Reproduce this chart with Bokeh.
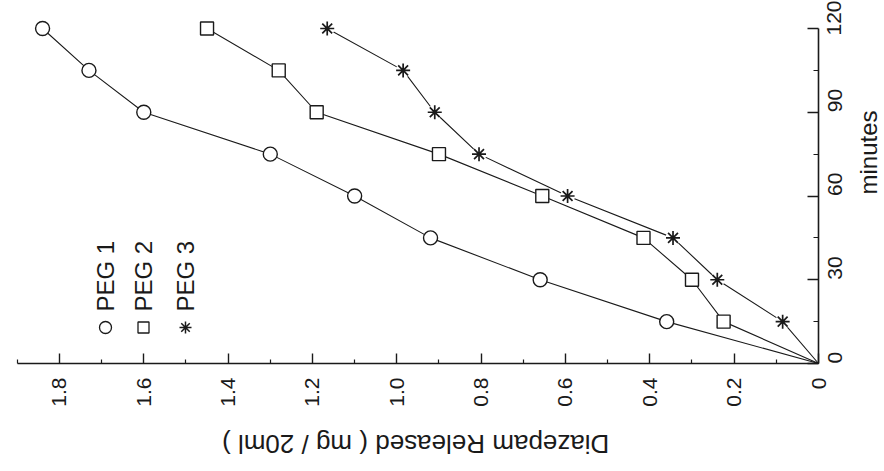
import math
from bokeh.plotting import figure
from bokeh.models import Range1d, FixedTicker, CustomJSTickFormatter, Label
from bokeh.embed import file_html
from bokeh.resources import INLINE
from bokeh.core.properties import value

# ---- data ----
minutes = [0, 15, 30, 45, 60, 75, 90, 105, 120]
peg1 = [0, 0.36, 0.66, 0.92, 1.10, 1.30, 1.60, 1.73, 1.84]
peg2 = [0, 0.225, 0.30, 0.415, 0.655, 0.90, 1.19, 1.28, 1.45]
peg3 = [0, 0.085, 0.24, 0.345, 0.595, 0.805, 0.91, 0.985, 1.165]
series_names = ["PEG 1", "PEG 2", "PEG 3"]

release_ticks = [0, 0.2, 0.4, 0.6, 0.8, 1.0, 1.2, 1.4, 1.6, 1.8]
release_minor = [0.1, 0.3, 0.5, 0.7, 0.9, 1.1, 1.3, 1.5, 1.7, 1.9]
minute_ticks = [0, 30, 60, 90, 120]
minute_minor = [15, 45, 75, 105]

x_label = "Diazepam   Released ( mg / 20ml )"
y_label = "minutes"

FONT = "Liberation Sans"
INK = "#1a1a1a"

# ---- layout: the whole canvas is the plotting frame; axes sit at fixed places ----
W, H = 884, 471
ORIG_PX, ORIG_PY = 818, 363          # pixel position of (0, 0)
PX_PER_UNIT = 421.7                  # px per mg/20ml
PX_PER_MIN = 335 / 120.0             # px per minute


def data_x(px):
    return (ORIG_PX - px) / PX_PER_UNIT


def data_y(py):
    return (ORIG_PY - py) / PX_PER_MIN


p = figure(width=W, height=H, output_backend="svg", toolbar_location=None,
           x_range=Range1d(data_x(0), data_x(W)),
           y_range=Range1d(data_y(H), data_y(0)),
           y_axis_location="right", min_border=0)
p.outline_line_color = None
p.grid.visible = False
p.background_fill_color = "white"
p.border_fill_color = "white"

# bottom axis (release), anchored at minutes = 0
xa = p.xaxis[0]
xa.fixed_location = 0
xa.bounds = (0, 1.9)
xa.ticker = FixedTicker(ticks=release_ticks, minor_ticks=release_minor)
xa.formatter = CustomJSTickFormatter(code="return tick == 0 ? '0' : tick.toFixed(1);")
xa.major_label_orientation = math.pi / 2
xa.major_label_standoff = 14
xa.major_tick_in = 10
xa.major_tick_out = 0
xa.minor_tick_in = 4
xa.minor_tick_out = 0

# right axis (minutes), anchored at release = 0
ya = p.yaxis[0]
ya.fixed_location = 0
ya.bounds = (0, 120)
ya.ticker = FixedTicker(ticks=minute_ticks, minor_ticks=minute_minor)
ya.major_label_orientation = math.pi / 2
ya.major_label_standoff = 16
ya.major_tick_in = 11
ya.major_tick_out = 0
ya.minor_tick_in = 5
ya.minor_tick_out = 0

for ax in (xa, ya):
    ax.axis_line_color = INK
    ax.axis_line_width = 1.6
    ax.major_tick_line_color = INK
    ax.minor_tick_line_color = INK
    ax.major_tick_line_width = 1.4
    ax.minor_tick_line_width = 1.2
    ax.major_label_text_font = FONT
    ax.major_label_text_font_size = "21px"
    ax.major_label_text_color = INK

# series
for vals in (peg1, peg2, peg3):
    p.line(vals, minutes, line_color=INK, line_width=1.1)

p.scatter(peg1[1:], minutes[1:], marker="circle", size=14, line_color=INK,
          line_width=1.4, fill_color="white")
p.scatter(peg2[1:], minutes[1:], marker="square", size=13, line_color=INK,
          line_width=1.4, fill_color="white")
p.scatter(peg3[1:], minutes[1:], marker="circle", size=15, line_color=None,
          fill_color="white")
p.scatter(peg3[1:], minutes[1:], marker="asterisk", size=14, line_color=INK,
          line_width=1.7)

# legend (rotated, like the reference)
leg_x = [data_x(105), data_x(143), data_x(185)]
leg_y = data_y(327)
p.scatter([leg_x[0]], [leg_y], marker="circle", size=12, line_color=INK,
          line_width=1.3, fill_color="white")
p.scatter([leg_x[1]], [leg_y], marker="square", size=11, line_color=INK,
          line_width=1.3, fill_color="white")
p.scatter([leg_x[2]], [leg_y], marker="asterisk", size=12, line_color=INK,
          line_width=1.5)
p.text(x=leg_x, y=[data_y(311)] * 3, text=series_names, angle=math.pi / 2,
       text_align="left", text_baseline="middle",
       text_font=value(FONT), text_font_size="24px", text_color=INK)

# axis titles (rotated like the reference)
p.add_layout(Label(x=data_x(408), y=data_y(443), text=x_label, angle=math.pi,
                   text_align="center", text_baseline="middle",
                   text_font=FONT, text_font_size="26px", text_color=INK))
p.add_layout(Label(x=data_x(868), y=data_y(152), text=y_label, angle=math.pi / 2,
                   text_align="center", text_baseline="middle",
                   text_font=FONT, text_font_size="24px", text_color=INK))

open("out.html", "w").write(file_html(p, INLINE))
